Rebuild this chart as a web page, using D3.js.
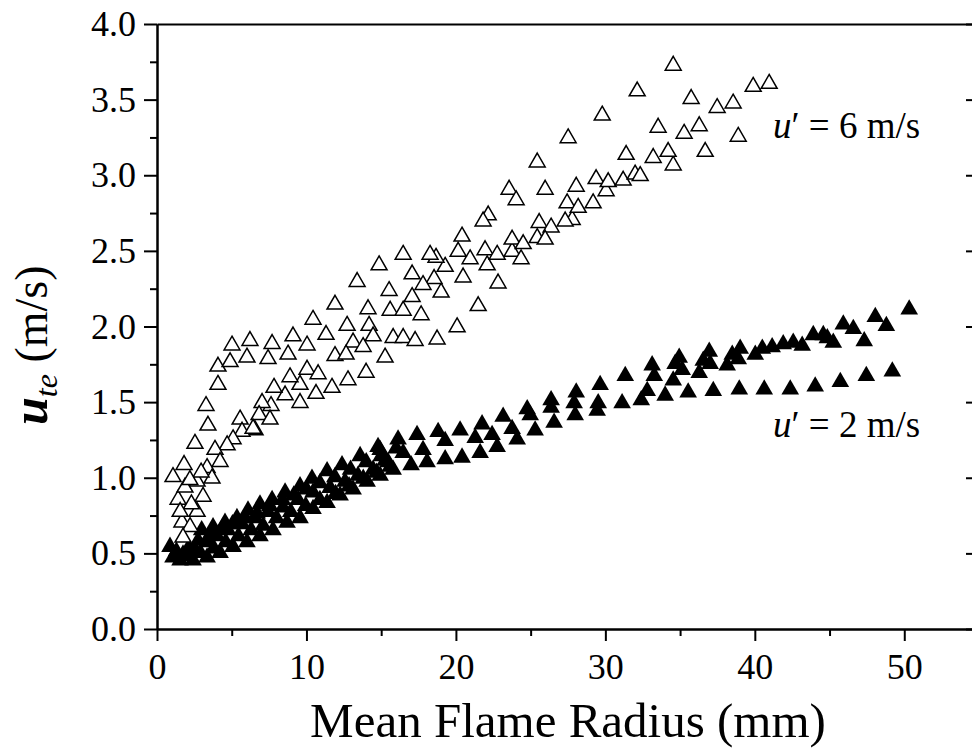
<!DOCTYPE html>
<html>
<head>
<meta charset="utf-8">
<script src="https://cdn.jsdelivr.net/npm/d3@7"></script>
<style>
  body { margin: 0; background: #fff; }
  svg { display: block; font-family: "Liberation Serif", "Times New Roman", serif; }
</style>
</head>
<body>
<div id="chart"></div>
<script>
// tick values
const xTicks = [0, 10, 20, 30, 40, 50];
const xMinor = [5, 15, 25, 35, 45, 55];
const yTicks = [0, 0.5, 1.0, 1.5, 2.0, 2.5, 3.0, 3.5, 4.0];
const yMinor = [0.25, 0.75, 1.25, 1.75, 2.25, 2.75, 3.25, 3.75];

// [mean flame radius (mm), u_te (m/s)]  u' = 6 m/s (open)
const u6 = [
  [1.07,1.02],[1.81,1.10],[2.54,1.24],[3.41,1.36],[3.28,1.49],[4.08,1.63],[4.08,1.75],[5.02,1.89],
  [4.89,1.78],[6.22,1.92],[6.02,1.81],[7.70,1.90],[7.43,1.80],[9.10,1.95],[8.77,1.83],[10.04,1.89],
  [10.44,2.06],[11.91,2.16],[11.31,1.96],[12.72,2.02],[14.12,2.13],[15.60,2.12],[14.19,2.02],[14.46,1.95],
  [15.26,1.81],[15.80,1.94],[13.12,1.91],[13.79,1.88],[11.91,1.82],[12.65,1.83],[13.99,1.71],[12.78,1.66],
  [11.71,1.61],[10.64,1.57],[10.04,1.73],[10.78,1.70],[9.57,1.63],[8.90,1.68],[8.57,1.56],[7.83,1.61],
  [9.57,1.51],[7.63,1.49],[7.03,1.51],[6.83,1.43],[7.56,1.40],[5.56,1.40],[6.56,1.33],[5.69,1.32],
  [5.09,1.27],[4.69,1.23],[3.88,1.20],[3.35,1.08],[3.68,1.01],[2.68,0.99],[3.08,0.89],[1.41,0.87],
  [1.87,0.95],[2.68,0.79],[1.67,0.72],[2.21,0.69],[1.74,0.62],[4.22,1.12],[6.43,1.34],[16.47,1.94],
  [17.27,1.92],[18.74,1.93],[16.47,2.12],[17.67,2.09],[20.08,2.01],[21.49,2.15],[14.86,2.42],[13.39,2.31],
  [15.53,2.25],[17.07,2.21],[19.01,2.24],[16.47,2.49],[18.54,2.33],[20.48,2.34],[22.82,2.30],[17.07,2.36],
  [17.80,2.29],[19.28,2.41],[18.67,2.47],[18.27,2.49],[20.95,2.46],[20.15,2.51],[22.09,2.42],[21.95,2.52],
  [22.76,2.49],[23.76,2.51],[24.36,2.46],[23.76,2.59],[24.50,2.56],[20.41,2.61],[22.16,2.75],[21.82,2.71],
  [23.56,2.92],[24.03,2.85],[25.44,3.10],[25.97,2.92],[25.57,2.70],[26.37,2.67],[25.44,2.60],[25.97,2.59],
  [27.78,2.72],[27.31,2.71],[27.44,2.83],[28.18,2.80],[28.05,2.94],[29.18,2.83],[29.38,2.99],[30.05,2.91],
  [30.19,2.97],[31.19,2.98],[31.99,3.02],[32.33,3.01],[34.54,3.08],[33.20,3.13],[34.20,3.17],[31.39,3.15],
  [36.68,3.17],[27.51,3.26],[29.79,3.41],[33.53,3.33],[36.28,3.34],[35.27,3.29],[35.74,3.52],[32.13,3.57],
  [34.54,3.74],[37.48,3.46],[38.55,3.49],[38.89,3.27],[39.89,3.60],[40.96,3.62],
  [2.30,0.84],[1.55,0.79],[2.95,1.05],[2.20,1.00]
];

// u' = 2 m/s (filled)
const u2 = [
  [0.87,0.56],[2.99,0.67],[3.75,0.69],[4.55,0.72],[5.35,0.75],[6.09,0.80],[6.89,0.84],[7.70,0.87],
  [8.57,0.92],[9.57,0.96],[10.37,1.01],[11.38,1.06],[12.38,1.10],[13.59,1.16],[14.79,1.22],[16.13,1.27],
  [1.30,0.53],[2.10,0.55],[2.75,0.60],[3.55,0.64],[4.35,0.68],[5.05,0.71],[5.90,0.75],[6.70,0.78],
  [7.55,0.83],[8.40,0.87],[9.15,0.90],[10.00,0.94],[10.90,0.98],[11.90,1.02],[12.95,1.07],[14.00,1.12],
  [15.00,1.16],[16.00,1.21],
  [1.74,0.51],[2.54,0.54],[3.35,0.59],[4.02,0.63],[4.75,0.67],[5.69,0.71],[6.56,0.75],[7.43,0.79],
  [8.43,0.82],[9.44,0.87],[10.44,0.92],[11.58,0.95],[12.58,0.99],[13.45,1.03],[14.46,1.07],[15.46,1.12],
  [2.00,0.50],[2.90,0.52],[3.80,0.55],[4.60,0.59],[5.45,0.63],[6.30,0.67],[7.10,0.70],[8.00,0.75],
  [8.95,0.79],[9.95,0.83],[10.90,0.87],[11.95,0.91],[12.85,0.96],[13.80,1.01],[14.70,1.05],[15.60,1.09],
  [1.07,0.49],[1.54,0.47],[2.41,0.47],[3.35,0.49],[4.22,0.52],[5.09,0.56],[6.02,0.59],[6.89,0.63],
  [7.76,0.67],[8.70,0.72],[9.57,0.75],[10.44,0.81],[11.38,0.85],[12.25,0.90],[13.12,0.94],[14.06,0.99],
  [14.93,1.03],[15.80,1.07],
  [14.93,1.20],[15.26,1.13],[16.47,1.18],[17.00,1.10],[17.40,1.30],[17.80,1.20],[18.07,1.12],[18.81,1.32],
  [19.28,1.26],[19.28,1.14],[20.41,1.15],[20.28,1.33],[21.29,1.28],[21.62,1.18],[21.75,1.37],[22.42,1.30],
  [22.76,1.22],[23.16,1.42],[23.76,1.34],[24.10,1.27],[24.77,1.47],[24.97,1.43],[25.30,1.33],[26.37,1.53],
  [26.37,1.48],[26.57,1.38],[28.05,1.58],[27.91,1.51],[27.98,1.43],[29.65,1.63],[29.52,1.51],[29.45,1.46],
  [31.33,1.69],[31.12,1.51],[32.40,1.53],[33.13,1.76],[33.27,1.69],[32.80,1.59],[34.94,1.81],[34.54,1.66],
  [34.00,1.56],
  [34.67,1.77],[35.14,1.73],[36.28,1.71],[36.55,1.79],[36.95,1.85],[37.01,1.77],[38.15,1.76],[38.49,1.83],
  [38.89,1.80],[39.02,1.87],[40.03,1.83],[40.50,1.87],[41.16,1.88],[41.90,1.90],[42.57,1.91],[43.17,1.89],
  [43.91,1.96],[44.58,1.96],[44.85,1.94],[45.25,1.91],[45.92,2.03],[46.59,2.00],[47.32,1.92],[48.06,2.08],
  [48.80,2.02],[50.33,2.13],
  [35.54,1.58],[37.22,1.59],[38.96,1.60],[40.63,1.60],[42.37,1.60],[44.04,1.62],[45.72,1.65],[47.46,1.69],
  [49.20,1.72]
];

const width = 972, height = 751;
const margin = { top: 24, right: -7, bottom: 122, left: 157 };

const x = d3.scaleLinear().domain([0, 55]).range([margin.left, width - margin.right]);
const y = d3.scaleLinear().domain([0, 4]).range([height - margin.bottom, margin.top]);

const svg = d3.select('#chart')
  .append('svg')
  .attr('width', width)
  .attr('height', height);

// axes
function styleAxis(g) {
  g.select('.domain').attr('stroke-width', 2);
  g.selectAll('.tick line').attr('stroke-width', 2);
  g.selectAll('.tick text')
    .style('font-family', '"Liberation Serif", "Times New Roman", serif')
    .style('font-size', '36px')
    .attr('fill', '#000');
}

const yBottom = y(0), yTop = y(4);

svg.append('g')
  .attr('transform', `translate(0,${yBottom})`)
  .call(d3.axisBottom(x).tickValues(xMinor).tickSize(7).tickSizeOuter(0).tickFormat(''))
  .call(styleAxis);
svg.append('g')
  .attr('transform', `translate(0,${yBottom})`)
  .call(d3.axisBottom(x).tickValues(xTicks).tickSize(12).tickSizeOuter(0).tickPadding(12).tickFormat(d3.format('d')))
  .call(styleAxis);

svg.append('g')
  .attr('transform', `translate(0,${yTop})`)
  .call(d3.axisTop(x).tickValues([]).tickSizeOuter(0))
  .call(styleAxis);

svg.append('g')
  .attr('transform', `translate(${margin.left},0)`)
  .call(d3.axisLeft(y).tickValues(yMinor).tickSize(7).tickSizeOuter(0).tickFormat(''))
  .call(styleAxis);
svg.append('g')
  .attr('transform', `translate(${margin.left},0)`)
  .call(d3.axisLeft(y).tickValues(yTicks).tickSize(13).tickSizeOuter(0).tickPadding(8).tickFormat(d3.format('.1f')))
  .call(styleAxis);

// right axis, ticks pointing inward
const xr = x.range()[1];
svg.append('g')
  .attr('transform', `translate(${xr},0)`)
  .call(d3.axisLeft(y).tickValues(yMinor).tickSize(7).tickSizeOuter(0).tickFormat(''))
  .call(styleAxis);
svg.append('g')
  .attr('transform', `translate(${xr},0)`)
  .call(d3.axisLeft(y).tickValues(yTicks).tickSize(13).tickSizeOuter(0).tickFormat(''))
  .call(styleAxis);

// markers
const triFilled = d3.symbol().type(d3.symbolTriangle).size(135)();
const triOpen = d3.symbol().type(d3.symbolTriangle).size(110)();

svg.append('g')
  .selectAll('path')
  .data(u2)
  .enter()
  .append('path')
  .attr('d', triFilled)
  .attr('transform', d => `translate(${x(d[0])},${y(d[1]) + 2.5})`)
  .attr('fill', '#000');

svg.append('g')
  .selectAll('path')
  .data(u6)
  .enter()
  .append('path')
  .attr('d', triOpen)
  .attr('transform', d => `translate(${x(d[0])},${y(d[1]) + 2.2})`)
  .attr('fill', '#fff')
  .attr('stroke', '#000')
  .attr('stroke-width', 1.5);

// annotations
function note(yPos, val) {
  const t = svg.append('text')
    .attr('x', 773)
    .attr('y', yPos)
    .style('font-size', '37px');
  t.append('tspan').style('font-style', 'italic').text('u');
  t.append('tspan').text('\u2032 = ' + val + ' m/s');
}
note(138, 6);
note(437, 2);

// axis titles
svg.append('text')
  .attr('x', (x.range()[0] + x.range()[1]) / 2)
  .attr('y', 737)
  .attr('text-anchor', 'middle')
  .style('font-size', '49px')
  .text('Mean Flame Radius (mm)');

const yl = svg.append('text')
  .attr('transform', 'translate(47,425) rotate(-90)')
  .attr('text-anchor', 'start');
yl.append('tspan').style('font-style', 'italic').style('font-weight', 'bold').style('font-size', '50px').text('u');
yl.append('tspan').style('font-style', 'italic').style('font-size', '32px').attr('dy', 10).text('te');
yl.append('tspan').style('font-size', '46px').attr('dy', -10).text(' (m/s)');
</script>
</body>
</html>
